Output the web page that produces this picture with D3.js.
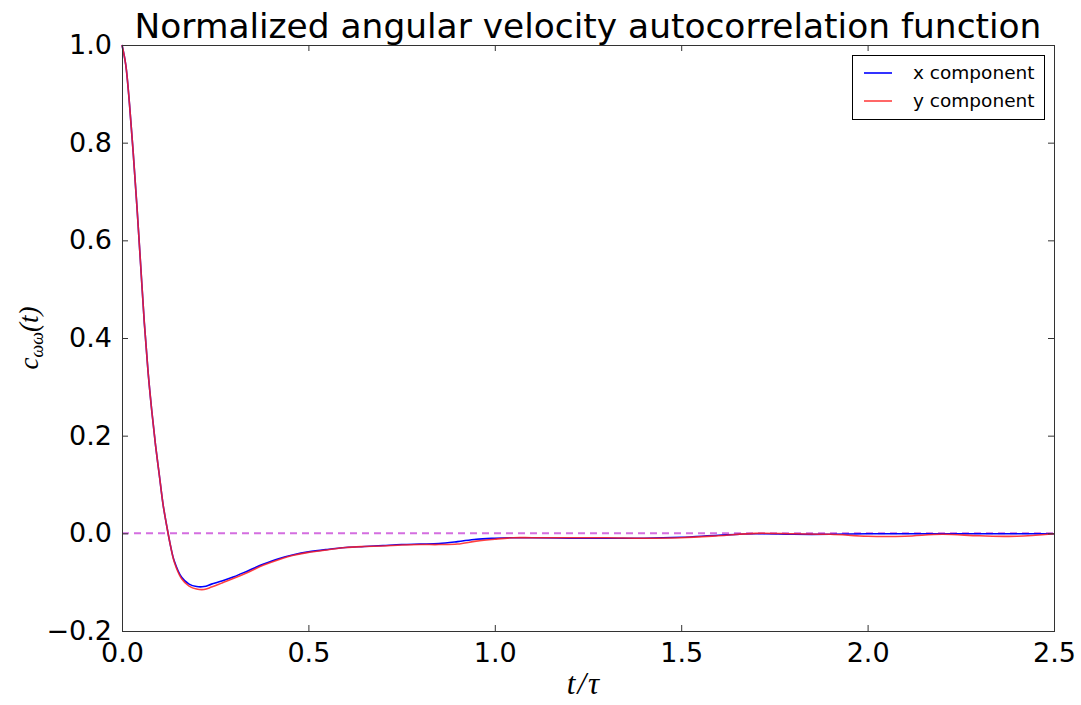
<!DOCTYPE html>
<html>
<head>
<meta charset="utf-8">
<script src="https://cdn.jsdelivr.net/npm/d3@7/dist/d3.min.js"></script>
<style>
  body { margin: 0; background: #fff; }
  svg { display: block; }
</style>
</head>
<body>
<script>
// time points t/tau shared by both series
var tVals = [0, 0.01, 0.02, 0.03, 0.04, 0.05, 0.06, 0.07, 0.08, 0.09, 0.10, 0.11, 0.12, 0.13, 0.14,
    0.16, 0.18, 0.20, 0.22, 0.24, 0.27, 0.30, 0.34, 0.38, 0.42, 0.46, 0.50, 0.55, 0.60, 0.65,
    0.70, 0.75, 0.80, 0.85, 0.90, 0.95, 1.00, 1.05, 1.10, 1.20, 1.30, 1.40, 1.50, 1.60, 1.70,
    1.80, 1.90, 2.00, 2.10, 2.20, 2.30, 2.40, 2.50];

var xComp = [1.0, 0.96, 0.88, 0.78, 0.67, 0.55, 0.43, 0.33, 0.25, 0.18, 0.12, 0.06, 0.015, -0.025, -0.056,
    -0.090, -0.104, -0.109, -0.109, -0.104, -0.097, -0.089, -0.076, -0.063, -0.052, -0.044, -0.038, -0.033, -0.029, -0.027,
    -0.025, -0.023, -0.022, -0.021, -0.017, -0.012, -0.010, -0.009, -0.009, -0.010, -0.010, -0.010, -0.008, -0.004, -0.001,
    -0.002, -0.002, -0.001, -0.001, -0.001, -0.001, -0.001, -0.001];

var yComp = [1.0, 0.96, 0.88, 0.78, 0.67, 0.55, 0.43, 0.33, 0.25, 0.18, 0.12, 0.06, 0.015, -0.025, -0.058,
    -0.093, -0.108, -0.114, -0.115, -0.110, -0.101, -0.092, -0.079, -0.065, -0.054, -0.045, -0.039, -0.034, -0.029, -0.027,
    -0.026, -0.024, -0.023, -0.023, -0.022, -0.016, -0.012, -0.009, -0.009, -0.009, -0.009, -0.010, -0.009, -0.005, 0.000,
    -0.001, -0.002, -0.006, -0.006, -0.002, -0.005, -0.006, -0.001];

var xTicks = [0, 0.5, 1.0, 1.5, 2.0, 2.5];
var yTicks = [-0.2, 0.0, 0.2, 0.4, 0.6, 0.8, 1.0];
var seriesNames = ["x component", "y component"];
var seriesColors = ["#0000ff", "#ff2020"];

var W = 1081, H = 705;
var m = { left: 122, top: 45, right: 27, bottom: 74 };
var iw = W - m.left - m.right, ih = H - m.top - m.bottom;

var svg = d3.select("body").append("svg").attr("width", W).attr("height", H);

var x = d3.scaleLinear().domain([0, 2.5]).range([0, iw]);
var y = d3.scaleLinear().domain([-0.2, 1.0]).range([ih, 0]);

var g = svg.append("g").attr("transform", "translate(" + m.left + "," + m.top + ")");

// 零线
g.append("line")
    .attr("x1", x(0)).attr("x2", x(2.5))
    .attr("y1", y(0)).attr("y2", y(0))
    .attr("stroke", "#d46ee0").attr("stroke-width", 2)
    .attr("stroke-dasharray", "7,5");

var line = d3.line()
    .x(function (d) { return x(d[0]); })
    .y(function (d) { return y(d[1]); })
    .curve(d3.curveCatmullRom.alpha(0.5));

[xComp, yComp].forEach(function (vals, k) {
    g.append("path")
        .datum(tVals.map(function (t, i) { return [t, vals[i]]; }))
        .attr("fill", "none")
        .attr("stroke", seriesColors[k])
        .attr("stroke-opacity", k === 1 ? 0.85 : 1)
        .attr("stroke-width", 1.6)
        .attr("d", line);
});

// ticks pointing inward on all sides
var tickLen = 6;
var axisColor = "#333";
var tickFont = "DejaVu Sans, sans-serif";

var xAxisB = d3.axisBottom(x).tickValues(xTicks).tickSize(-tickLen).tickPadding(12)
    .tickFormat(d3.format(".1f"));
var xAxisT = d3.axisTop(x).tickValues(xTicks).tickSize(-tickLen).tickFormat("");
var yAxisL = d3.axisLeft(y).tickValues(yTicks).tickSize(-tickLen).tickPadding(10)
    .tickFormat(function (d) { return d3.format(".1f")(d).replace("-", "\u2212"); });
var yAxisR = d3.axisRight(y).tickValues(yTicks).tickSize(-tickLen).tickFormat("");

function styleAxis(sel) {
    sel.select(".domain").remove();
    sel.selectAll(".tick line").attr("stroke", axisColor);
    sel.selectAll("text").attr("font-family", tickFont).attr("font-size", 27).attr("fill", "#000");
}
g.append("g").attr("transform", "translate(0," + ih + ")").call(xAxisB).call(styleAxis);
g.append("g").call(xAxisT).call(styleAxis);
g.append("g").call(yAxisL).call(styleAxis);
g.append("g").attr("transform", "translate(" + iw + ",0)").call(yAxisR).call(styleAxis);

g.append("rect")
    .attr("x", 0.5).attr("y", 0.5).attr("width", iw).attr("height", ih)
    .attr("fill", "none").attr("stroke", axisColor).attr("stroke-width", 1);

// 标题和轴标签
svg.append("text")
    .attr("x", m.left + iw / 2).attr("y", 38)
    .attr("text-anchor", "middle")
    .attr("font-family", tickFont).attr("font-size", 34.4)
    .text("Normalized angular velocity autocorrelation function");

var mathFont = "Liberation Serif, DejaVu Serif, serif";
svg.append("text")
    .attr("x", m.left + iw / 2 - 4).attr("y", 694)
    .attr("text-anchor", "middle")
    .attr("font-family", mathFont).attr("font-style", "italic").attr("font-size", 31)
    .attr("letter-spacing", 2)
    .text("t/\u03c4");

var yl = svg.append("text")
    .attr("transform", "translate(38," + (m.top + ih / 2) + ") rotate(-90)")
    .attr("text-anchor", "middle")
    .attr("font-family", mathFont).attr("font-style", "italic").attr("font-size", 27);
yl.append("tspan").text("c");
yl.append("tspan").attr("font-size", 18).attr("dy", 5).text("\u03c9\u03c9");
yl.append("tspan").attr("dy", -5).text("(t)");

// legend
var lg = svg.append("g").attr("transform", "translate(852,55)");
lg.append("rect").attr("x", 0.5).attr("y", 0.5).attr("width", 192).attr("height", 64)
    .attr("fill", "#fff").attr("stroke", "#000").attr("stroke-width", 1);
seriesNames.forEach(function (name, k) {
    var yy = 18 + k * 28;
    lg.append("line").attr("x1", 12).attr("x2", 40).attr("y1", yy).attr("y2", yy)
        .attr("stroke", seriesColors[k]).attr("stroke-opacity", k === 1 ? 0.85 : 1).attr("stroke-width", 1.6);
    lg.append("text").attr("x", 61).attr("y", yy + 6)
        .attr("font-family", tickFont).attr("font-size", 18.5)
        .text(name);
});
</script>
</body>
</html>
